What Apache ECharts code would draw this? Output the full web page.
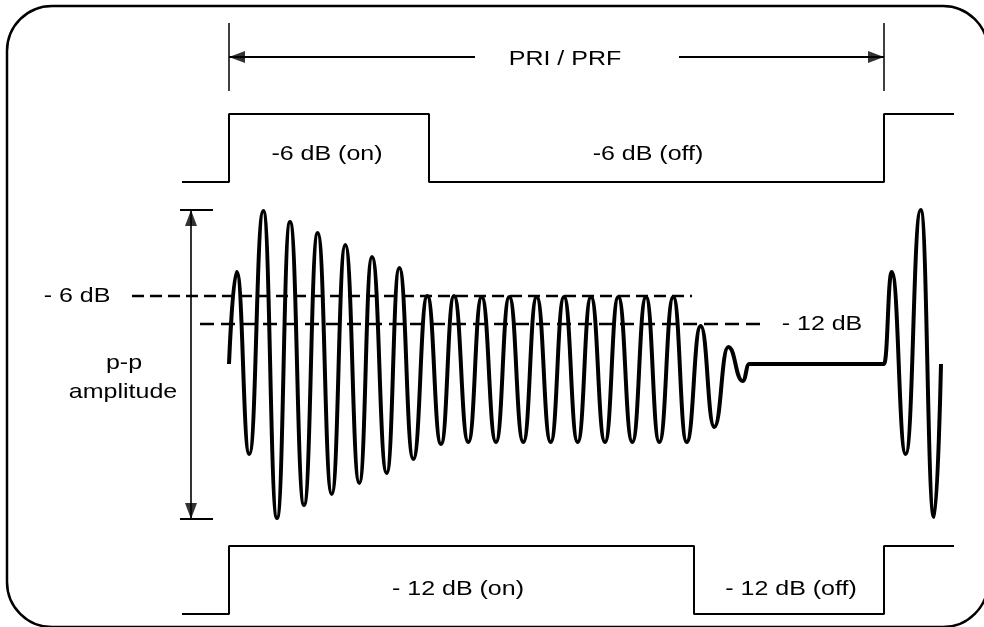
<!DOCTYPE html>
<html><head><meta charset="utf-8">
<script src="https://cdn.jsdelivr.net/npm/echarts@6/dist/echarts.min.js"></script>
<style>html,body{margin:0;padding:0;background:#fff}#c{width:984px;height:627px}</style>
</head><body><div id="c"></div>
<script>
// Time axis: 0 = pulse start, PRI = 655 units. Level axis: 0 = RF baseline.
const timeRange = [-229, 755];
const levelRange = [-263, 364];

// -6 dB modulation pulse (top) and -12 dB modulation pulse (bottom)
const topPulseTime  = [-47, 0, 0, 200, 200, 655, 655, 725];
const topPulseLevel = [182, 182, 250, 250, 182, 182, 250, 250];
const botPulseTime  = [-47, 0, 0, 465, 465, 655, 655, 725];
const botPulseLevel = [-250, -250, -182, -182, -250, -250, -182, -182];

// RF burst: extrema
const rfTime = [0, 7.7, 20.3, 34.3, 48, 61, 75, 88.7, 102.7, 116.3, 130.3, 143, 157.7, 170.3, 184.3,
  198.3, 212, 225, 239.3, 252.7, 267, 280.3, 294.3, 307.7, 321.7, 335, 348.7, 362, 376, 389.3, 403.3,
  417, 430.3, 444.3, 457.7, 471.7, 485.3, 499.3, 513.7, 520.3, 655, 662.7, 676.7, 691.7, 705, 712];
const rfAmp = [0, 92, -90, 153, -154, 142, -141, 131, -130, 119, -119, 107, -109, 96, -95,
  68, -80, 68, -78, 67, -78, 67, -78, 67, -78, 67, -78, 67, -78, 67, -78,
  67, -78, 67, -78, 38, -63, 17, -17, 0, 0, 92, -90, 154, -153, 0];

// reference levels
const minus6Level = 68,  minus6Span = [-97, 463];
const minus12Level = 40, minus12Span = [-29, 531];

// PRI dimension
const priLevel = 307, priStart = 0, priEnd = 655, priTextGap = [246, 450];
const priMarkerSpan = [273, 341];
// p-p dimension
const ppTime = -38, ppSpan = [-155, 154], ppCapSpan = [-49, -16];

// text labels
const labelText  = ['PRI / PRF', '-6 dB (on)', '-6 dB (off)', '- 12 dB (on)', '- 12 dB (off)', '- 6 dB', '- 12 dB', 'p-p', 'amplitude'];
const labelTime  = [336, 98, 419, 229, 562, -152, 593, -105, -106];
const labelLevel = [305, 210, 210, -225, -225, 68, 40, 1, -28];

const headW = 12, headL = 16;

function zip(a, b) { return a.map((x, i) => [x, b[i]]); }

const chart = echarts.init(document.getElementById('c'), null, {renderer: 'canvas'});

const seg = (p, q, w) => ({coords: [p, q], lineStyle: {width: w}});
const straight = [
  seg([priStart, priLevel], [priTextGap[0], priLevel], 2),
  seg([priTextGap[1], priLevel], [priEnd, priLevel], 2),
  seg([priStart, priMarkerSpan[0]], [priStart, priMarkerSpan[1]], 1.5),
  seg([priEnd, priMarkerSpan[0]], [priEnd, priMarkerSpan[1]], 1.5),
  seg([ppTime, ppSpan[0]], [ppTime, ppSpan[1]], 1.6),
  seg([ppCapSpan[0], ppSpan[1]], [ppCapSpan[1], ppSpan[1]], 2),
  seg([ppCapSpan[0], ppSpan[0]], [ppCapSpan[1], ppSpan[0]], 2)
];

const heads = [
  {value: [priStart + headL / 2, priLevel], symbolRotate: 90},
  {value: [priEnd - headL / 2, priLevel], symbolRotate: -90},
  {value: [ppTime, ppSpan[1] - headL / 2], symbolRotate: 0},
  {value: [ppTime, ppSpan[0] + headL / 2], symbolRotate: 180}
];

chart.setOption({
  animation: false,
  backgroundColor: '#fff',
  grid: {left: 0, right: 0, top: 0, bottom: 0},
  xAxis: {type: 'value', name: 'time', min: timeRange[0], max: timeRange[1], show: false},
  yAxis: {type: 'value', name: 'level', min: levelRange[0], max: levelRange[1], show: false},
  series: [
    {type: 'line', data: zip(topPulseTime, topPulseLevel), showSymbol: false, lineStyle: {color: '#000', width: 2}},
    {type: 'line', data: zip(botPulseTime, botPulseLevel), showSymbol: false, lineStyle: {color: '#000', width: 2}},
    {type: 'line', data: [[minus6Span[0], minus6Level], [minus6Span[1], minus6Level]], showSymbol: false,
      lineStyle: {color: '#000', width: 2.6, type: [12, 6]}},
    {type: 'line', data: [[minus12Span[0], minus12Level], [minus12Span[1], minus12Level]], showSymbol: false,
      lineStyle: {color: '#000', width: 2.6, type: [14, 7]}},
    {type: 'line', data: zip(rfTime, rfAmp), showSymbol: false, smooth: 0.5, smoothMonotone: 'x',
      lineStyle: {color: '#000', width: 4}, z: 3},
    {type: 'lines', coordinateSystem: 'cartesian2d', data: straight, lineStyle: {color: '#000', opacity: 1}, symbol: 'none'},
    {type: 'scatter', data: heads, symbol: 'triangle', symbolSize: [headW, headL], itemStyle: {color: '#000'}, z: 4}
  ]
});

const texts = labelText.map((t, i) => {
  const p = chart.convertToPixel({xAxisIndex: 0, yAxisIndex: 0}, [labelTime[i], labelLevel[i]]);
  return {
    type: 'text', x: p[0], y: p[1], scaleX: 1.19, z: 10,
    style: {text: t, fill: '#000', font: '21px "Liberation Sans", Arial, sans-serif',
      textAlign: 'center', textVerticalAlign: 'middle', align: 'center', verticalAlign: 'middle'}
  };
});

chart.setOption({
  graphic: [
    {type: 'rect', shape: {x: 7, y: 6, width: 981, height: 621, r: 45}, z: 0,
      style: {fill: 'none', stroke: '#000', lineWidth: 2.5}}
  ].concat(texts)
});
</script></body></html>
